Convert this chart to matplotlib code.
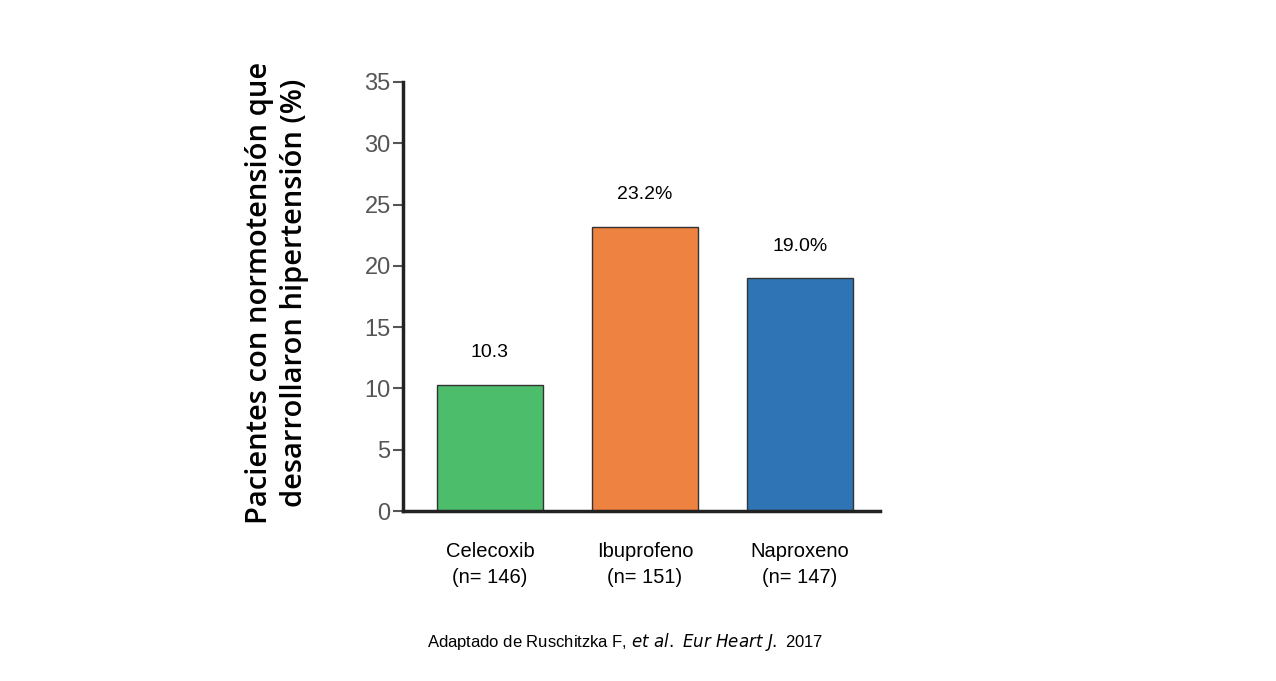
import matplotlib
matplotlib.use("Agg")
import matplotlib.pyplot as plt

plt.rcParams['font.family'] = ['Liberation Sans', 'DejaVu Sans']

categories = ["Celecoxib\n(n= 146)", "Ibuprofeno\n(n= 151)", "Naproxeno\n(n= 147)"]
values = [10.3, 23.2, 19.0]
labels = ["10.3", "23.2%", "19.0%"]
colors = ["#4cbd6b", "#ee8240", "#2f75b5"]
yticks = [0, 5, 10, 15, 20, 25, 30, 35]

fig = plt.figure(figsize=(12.76, 6.81), dpi=100)
ax = fig.add_axes([0.316, 0.2496, 0.374, 0.63])
x = range(len(values))
ax.bar(x, values, width=0.68, color=colors, edgecolor="#333333", linewidth=1)
for xi, v, l in zip(x, values, labels):
    ax.text(xi, v + 1.9, l, ha="center", va="bottom", fontsize=14)
ax.set_xlim(-0.56, 2.52)
ax.set_ylim(0, 35)
ax.set_yticks(yticks)
ax.tick_params(axis="y", labelsize=17, colors="#555555", labelcolor="#555555", width=1.5, length=7, pad=2)
ax.tick_params(axis="x", length=0, labelsize=14.5, pad=22)
ax.set_xticks(list(x))
ax.set_xticklabels(categories, linespacing=1.5)
for s in ["top", "right"]:
    ax.spines[s].set_visible(False)
ax.spines["left"].set_linewidth(2.5)
ax.spines["bottom"].set_linewidth(2.5)
ax.spines["left"].set_color("#222222")
ax.spines["bottom"].set_color("#222222")
fig.text(0.217, 0.57, "Pacientes con normotensión que\ndesarrollaron hipertensión (%)",
         rotation=90, ha="center", va="center", fontsize=21, linespacing=1.3,
         family=['Open Sans', 'DejaVu Sans'], fontweight='semibold')
fig.text(0.49, 0.058, "Adaptado de Ruschitzka F, $\\it{et\\ al.\\ Eur\\ Heart\\ J.}$ 2017",
         ha="center", va="center", fontsize=12)
fig.savefig("out.png", dpi=100, facecolor="white")
